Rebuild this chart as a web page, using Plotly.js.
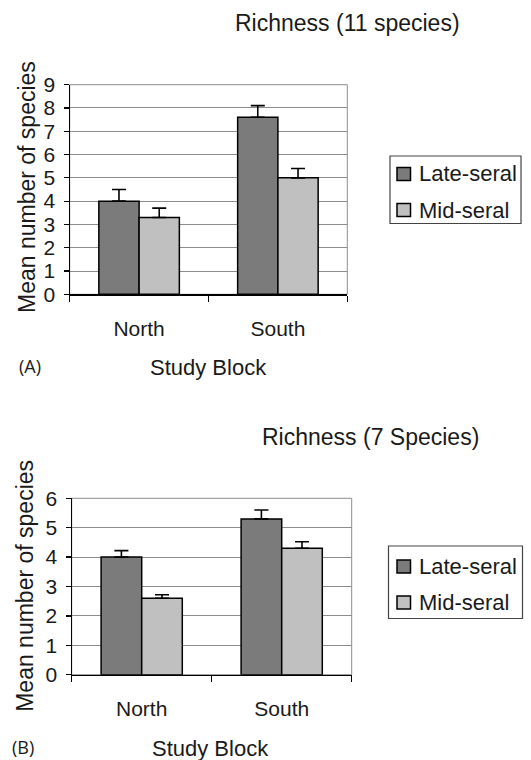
<!DOCTYPE html>
<html>
<head>
<meta charset="utf-8">
<script src="https://cdn.plot.ly/plotly-3.0.1.min.js"></script>
<style>html,body{margin:0;padding:0;background:#fff;}#chart{width:531px;height:760px;}</style>
</head>
<body>
<div id="chart"></div>
<script>
// ---- data ----
const blocks = ["North", "South"];
const seriesNames = ["Late-seral", "Mid-seral"];
// Panel A: Richness (11 species)
const lateA = [4.0, 7.6];
const lateErrA = [0.5, 0.5];
const midA = [3.3, 5.0];
const midErrA = [0.4, 0.4];
// Panel B: Richness (7 Species)
const lateB = [4.0, 5.3];
const lateErrB = [0.22, 0.3];
const midB = [2.6, 4.3];
const midErrB = [0.12, 0.22];
const yTicksA = [0,1,2,3,4,5,6,7,8,9];
const yTicksB = [0,1,2,3,4,5,6];

const seriesColors = ["#7b7b7b", "#c0c0c0"];
const FONT = "Liberation Sans, Arial, sans-serif";
const W = 531, H = 760;
const px = v => v / W;
const py = v => 1 - v / H;

function barTrace(i, y, err, xa, ya) {
  return {
    type: "bar", name: seriesNames[i], x: blocks, y: y, xaxis: xa, yaxis: ya, showlegend: false,
    marker: {color: seriesColors[i], line: {color: "#000", width: 1.5}},
    error_y: {type: "data", symmetric: false, array: err, arrayminus: err.map(() => 0),
              color: "#000", thickness: 1.6, width: 7},
    hoverinfo: "skip"
  };
}

const data = [
  barTrace(0, lateA, lateErrA, "x", "y"),
  barTrace(1, midA, midErrA, "x", "y"),
  barTrace(0, lateB, lateErrB, "x2", "y2"),
  barTrace(1, midB, midErrB, "x2", "y2")
];

const tickFont = {family: FONT, size: 21, color: "#1a1a1a"};
function xAxis(domain, anchor) {
  return {domain: domain, anchor: anchor, type: "category", range: [-0.5, 1.5],
    showgrid: false, showline: true, linecolor: "#000", linewidth: 1.2,
    ticks: "outside", tickson: "boundaries", ticklen: 6, tickcolor: "#000", tickwidth: 1.2,
    ticklabelstandoff: 15, tickfont: tickFont, fixedrange: true};
}
function yAxis(domain, anchor, range, tv) {
  return {domain: domain, anchor: anchor, range: range, tickvals: tv,
    showgrid: true, gridcolor: "#8c8c8c", gridwidth: 1, zeroline: false,
    showline: true, linecolor: "#000", linewidth: 1.2,
    ticks: "outside", ticklen: 5, tickcolor: "#000", tickwidth: 1.2,
    ticklabelstandoff: 4, tickfont: tickFont, fixedrange: true};
}

const ann = (text, x, y, size, extra) => Object.assign({text: text, x: x, y: y, xref: "paper", yref: "paper",
  showarrow: false, xanchor: "center", yanchor: "middle",
  font: {family: FONT, size: size, color: "#1a1a1a"}}, extra || {});

// custom legend boxes (box left/right/top/bottom, row centres) in pixels
const legends = [
  {x0: 390, x1: 521, y0: 156, y1: 223.5, rows: [174, 210]},
  {x0: 388.5, x1: 522.5, y0: 546, y1: 618.5, rows: [566.5, 602.5]}
];
const shapes = [
  {type: "rect", xref: "x domain", yref: "y domain", x0: 0, x1: 1, y0: 0, y1: 1, line: {color: "#8c8c8c", width: 1}, layer: "below"},
  {type: "rect", xref: "x2 domain", yref: "y2 domain", x0: 0, x1: 1, y0: 0, y1: 1, line: {color: "#8c8c8c", width: 1}, layer: "below"}
];
const annotations = [
  ann("Richness (11 species)", px(347), py(23), 23),
  ann("Mean number of species", px(27), py(187), 23, {textangle: -90}),
  ann("Study Block", px(208.7), py(367), 22),
  ann("(A)", px(30), py(366), 18, {font: {family: "Open Sans, sans-serif", size: 18, color: "#1a1a1a"}}),
  ann("Richness (7 Species)", px(370.8), py(436.7), 23),
  ann("Mean number of species", px(25), py(585.8), 23, {textangle: -90}),
  ann("Study Block", px(210), py(748), 22),
  ann("(B)", px(23), py(747), 18, {font: {family: "Open Sans, sans-serif", size: 18, color: "#1a1a1a"}})
];
legends.forEach(L => {
  shapes.push({type: "rect", xref: "paper", yref: "paper", x0: px(L.x0), x1: px(L.x1), y0: py(L.y1), y1: py(L.y0),
    line: {color: "#444", width: 1.2}, fillcolor: "#fff"});
  L.rows.forEach((cy, i) => {
    shapes.push({type: "rect", xref: "paper", yref: "paper", x0: px(397), x1: px(410.5), y0: py(cy + 6.5), y1: py(cy - 6.5),
      line: {color: "#000", width: 1.5}, fillcolor: seriesColors[i]});
    annotations.push(ann(seriesNames[i], px(417), py(cy), 22, {xanchor: "left"}));
  });
});

const layout = {
  width: W, height: H, margin: {l: 0, r: 0, t: 0, b: 0},
  paper_bgcolor: "#fff", plot_bgcolor: "#fff",
  barmode: "group", bargap: 0.42, bargroupgap: 0,
  showlegend: false,
  xaxis: xAxis([px(69.7), px(347.3)], "y"),
  yaxis: yAxis([py(294.3), py(84.7)], "x", [0, 9], yTicksA),
  xaxis2: xAxis([px(71.7), px(351.7)], "y2"),
  yaxis2: yAxis([py(674.7), py(498.3)], "x2", [0, 6], yTicksB),
  shapes: shapes,
  annotations: annotations
};

Plotly.newPlot("chart", data, layout, {staticPlot: true, displayModeBar: false});
</script>
</body>
</html>
